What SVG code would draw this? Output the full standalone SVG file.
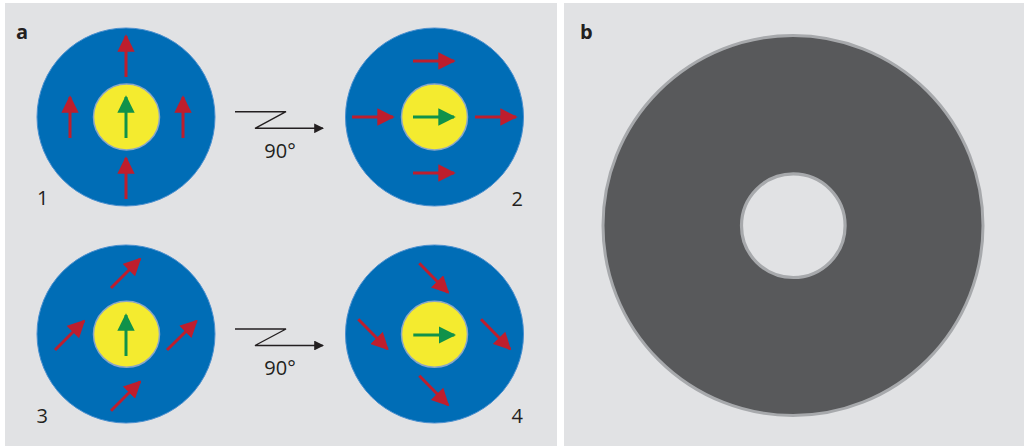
<svg xmlns="http://www.w3.org/2000/svg" width="1024" height="446" viewBox="0 0 1024 446">
<defs>
<style>
.panel{fill:#e1e2e4}
.outer{fill:#006db6;stroke:#4a8fcf;stroke-width:1}
.inner{fill:#f4eb2f;stroke:#8aa6c8;stroke-width:1.5}
.red{stroke:#be1e2d;stroke-width:3;fill:none}
.green{stroke:#10924a;stroke-width:3;fill:none}
.conn{stroke:#231f20;stroke-width:1.4;fill:none}
.lbl{font-family:"Open Sans","Liberation Sans",sans-serif;font-size:20px;fill:#231f20}
.bold{font-weight:bold}
</style>
<marker id="hr" viewBox="0 0 10 10" refX="9" refY="5" markerWidth="5.8" markerHeight="5.8" markerUnits="strokeWidth" orient="auto"><path d="M0,0 L10,5 L0,10 z" fill="#be1e2d"/></marker>
<marker id="hg" viewBox="0 0 10 10" refX="9" refY="5" markerWidth="5.8" markerHeight="5.8" markerUnits="strokeWidth" orient="auto"><path d="M0,0 L10,5 L0,10 z" fill="#10924a"/></marker>
<marker id="hk" viewBox="0 0 10 10" refX="9" refY="5" markerWidth="9" markerHeight="7" markerUnits="strokeWidth" orient="auto"><path d="M0,0 L10,5 L0,10 z" fill="#231f20"/></marker>
</defs>
<rect width="1024" height="446" fill="#ffffff"/>
<rect class="panel" x="5" y="3" width="552" height="443"/>
<rect class="panel" x="564" y="3" width="460" height="443"/>

<text class="lbl bold" x="16" y="39">a</text>
<text class="lbl bold" x="580" y="39">b</text>

<g id="node1">
<circle class="outer" cx="126" cy="117" r="89"/>
<circle class="inner" cx="126.5" cy="117" r="33"/>
<line class="red" x1="126" y1="77" x2="126" y2="36" marker-end="url(#hr)"/>
<line class="red" x1="70" y1="138" x2="70" y2="97" marker-end="url(#hr)"/>
<line class="red" x1="183" y1="138" x2="183" y2="97" marker-end="url(#hr)"/>
<line class="red" x1="126" y1="199" x2="126" y2="158" marker-end="url(#hr)"/>
<line class="green" x1="126" y1="138" x2="126" y2="97" marker-end="url(#hg)"/>
<text class="lbl" x="37" y="205">1</text>
</g>

<g id="node2">
<circle class="outer" cx="434.5" cy="117" r="89"/>
<circle class="inner" cx="434.5" cy="117" r="33"/>
<line class="red" x1="413" y1="61" x2="454" y2="61" marker-end="url(#hr)"/>
<line class="red" x1="352" y1="117" x2="393" y2="117" marker-end="url(#hr)"/>
<line class="red" x1="475" y1="117" x2="516" y2="117" marker-end="url(#hr)"/>
<line class="red" x1="413" y1="173" x2="454" y2="173" marker-end="url(#hr)"/>
<line class="green" x1="413" y1="117" x2="454" y2="117" marker-end="url(#hg)"/>
<text class="lbl" x="511.5" y="206">2</text>
</g>

<g id="node3">
<circle class="outer" cx="126" cy="334" r="89"/>
<circle class="inner" cx="126.5" cy="334.3" r="33"/>
<line class="red" x1="111" y1="288" x2="140" y2="259" marker-end="url(#hr)"/>
<line class="red" x1="55" y1="350" x2="84" y2="321" marker-end="url(#hr)"/>
<line class="red" x1="167" y1="350" x2="196.5" y2="321" marker-end="url(#hr)"/>
<line class="red" x1="111" y1="410.7" x2="140" y2="381.7" marker-end="url(#hr)"/>
<line class="green" x1="126" y1="356" x2="126" y2="315" marker-end="url(#hg)"/>
<text class="lbl" x="36.5" y="423">3</text>
</g>

<g id="node4">
<circle class="outer" cx="434.5" cy="334" r="89"/>
<circle class="inner" cx="434.5" cy="334.3" r="33"/>
<line class="red" x1="419.3" y1="263.3" x2="448" y2="292.5" marker-end="url(#hr)"/>
<line class="red" x1="358.3" y1="319.3" x2="387.5" y2="349" marker-end="url(#hr)"/>
<line class="red" x1="481" y1="319.3" x2="510" y2="349" marker-end="url(#hr)"/>
<line class="red" x1="419.3" y1="375.7" x2="448" y2="405" marker-end="url(#hr)"/>
<line class="green" x1="413.3" y1="335" x2="454.3" y2="335" marker-end="url(#hg)"/>
<text class="lbl" x="511.5" y="423">4</text>
</g>

<g id="connectors">
<polyline class="conn" points="235,111.7 286,111.7 255,128.3 323,128.3" marker-end="url(#hk)"/>
<text class="lbl" x="280" y="158" text-anchor="middle">90°</text>
<polyline class="conn" points="235,329 286,329 255,345.5 323,345.5" marker-end="url(#hk)"/>
<text class="lbl" x="280" y="375" text-anchor="middle">90°</text>
</g>

<g id="disk">
<circle cx="793" cy="225.5" r="190" fill="#58595b" stroke="#a7a9ac" stroke-width="3"/>
<circle cx="793.3" cy="225.7" r="51.8" fill="#e1e2e4" stroke="#a7a9ac" stroke-width="3.2"/>
</g>
</svg>
